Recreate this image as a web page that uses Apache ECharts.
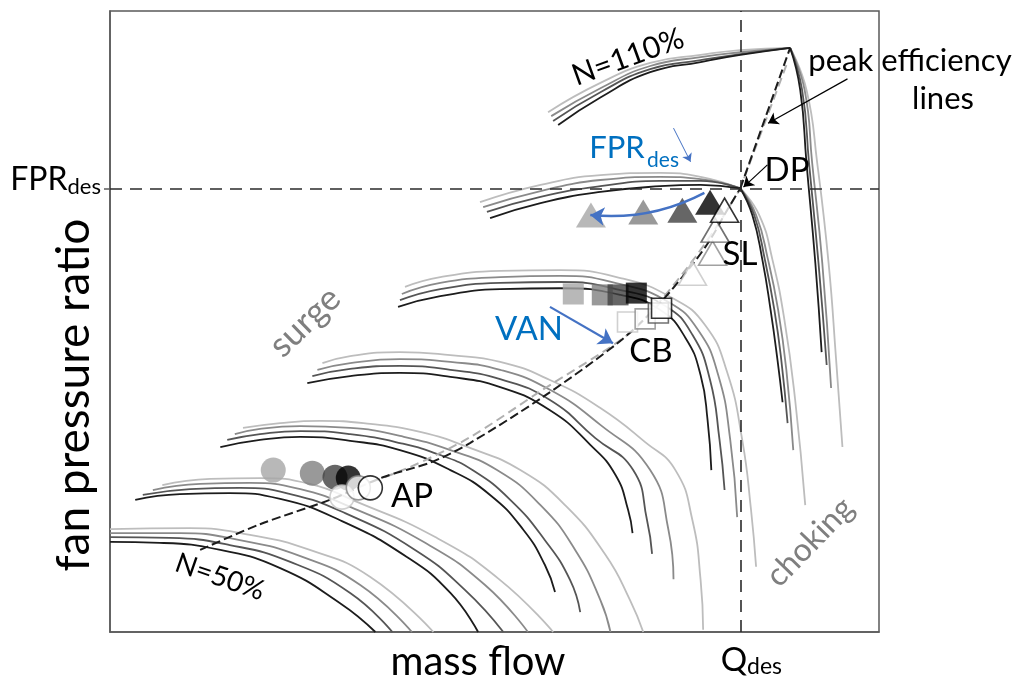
<!DOCTYPE html>
<html>
<head>
<meta charset="utf-8">
<script src="https://cdn.jsdelivr.net/npm/echarts@6/dist/echarts.min.js"></script>
<style>
  html, body { margin: 0; padding: 0; background: #ffffff; }
  #chart { width: 1022px; height: 682px; }
</style>
</head>
<body>
<div id="chart"></div>
<script>
// Fan map sketch. Mass flow in % of Q_des, fan pressure ratio in % of FPR_des.
// Each speed line is drawn for four configurations: [black, dark, mid, light].

const xTickValues = [100];
const xTickLabels = ['{a|Q}{b|des}'];
const yTickValues = [100];
const yTickLabels = ['{a|FPR}{b|des}'];

const n50 = [
  [[0, 20.3], [7.9, 20.1], [17.5, 18.5], [27.0, 14.4], [36.5, 6.5], [42.1, 0]],
  [[0, 21.4], [9.5, 21.2], [19.0, 19.6], [28.6, 15.8], [38.1, 8.8], [44.8, 0]],
  [[0, 22.3], [11.1, 22.3], [20.6, 20.7], [30.2, 17.1], [39.7, 10.6], [47.9, 0]],
  [[0, 23.2], [12.7, 23.4], [22.2, 21.9], [31.7, 18.5], [41.3, 12.4], [51.3, 0]]
];
const n60 = [
  [[4.0, 29.8], [11.1, 31.1], [19.0, 31.3], [27.0, 30.0], [36.5, 25.2], [47.1, 16.9], [54.0, 8.8], [58.4, 0]],
  [[5.2, 30.9], [12.7, 32.2], [20.6, 32.5], [28.6, 31.1], [37.3, 26.8], [48.4, 18.5], [56.3, 9.5], [62.4, 0]],
  [[6.8, 32.0], [14.3, 33.4], [22.2, 33.6], [30.2, 32.2], [38.1, 28.2], [50.0, 20.1], [59.5, 10.6], [66.3, 0]],
  [[8.3, 33.1], [15.9, 34.5], [23.8, 34.7], [31.7, 33.4], [38.9, 29.5], [51.6, 21.4], [61.9, 11.7], [70.3, 0]]
];
const n70 = [
  [[17.5, 41.7], [23.8, 43.3], [30.2, 44.0], [38.1, 43.1], [46.0, 41.0], [54.0, 36.5], [60.3, 30.9], [65.6, 23.0], [69.0, 15.1], [70.6, 9.0]],
  [[18.6, 43.3], [23.8, 44.6], [30.2, 45.3], [38.1, 44.6], [46.0, 42.6], [52.4, 39.9], [57.5, 36.5], [63.5, 29.8], [69.0, 20.7], [73.0, 11.7], [74.6, 4.5]],
  [[19.8, 44.6], [23.8, 45.8], [30.2, 46.4], [38.1, 46.0], [46.0, 44.2], [54.0, 41.0], [61.4, 36.5], [68.3, 28.6], [73.8, 18.5], [77.8, 7.2], [79.4, 0]],
  [[21.1, 46.0], [27.0, 47.1], [33.3, 47.6], [41.3, 46.9], [49.2, 45.1], [57.1, 41.5], [65.1, 36.5], [72.2, 28.6], [78.6, 17.4], [82.5, 7.2], [84.6, 0]]
];
const n80 = [
  [[31.3, 56.1], [38.1, 57.7], [46.0, 58.4], [54.0, 57.5], [61.9, 55.2], [69.8, 50.0], [76.2, 42.2], [80.2, 35.4], [82.2, 27.5], [82.9, 22.3]],
  [[32.1, 57.7], [38.1, 59.3], [46.0, 60.0], [54.0, 59.1], [61.9, 57.0], [69.8, 52.3], [77.0, 43.7], [83.0, 36.5], [85.2, 25.2], [86.0, 17.6]],
  [[32.9, 59.1], [38.1, 60.6], [46.0, 61.5], [54.0, 60.9], [61.9, 59.1], [69.8, 54.6], [77.8, 46.7], [85.7, 36.5], [88.6, 23.0], [89.4, 11.9]],
  [[33.7, 60.6], [38.1, 62.2], [46.0, 63.1], [54.0, 62.4], [61.9, 60.9], [69.8, 56.8], [77.8, 50.5], [84.9, 42.8], [89.7, 36.5], [92.4, 25.2], [93.7, 11.7], [94.1, 0.5]]
];
const n90 = [
  [[45.7, 73.3], [52.4, 75.7], [61.9, 77.3], [71.4, 77.5], [81.0, 76.0], [87.3, 72.6], [91.3, 66.3], [93.7, 57.9], [94.8, 47.8], [95.4, 36.5]],
  [[46.0, 74.8], [52.4, 77.3], [61.9, 78.7], [71.4, 78.9], [81.0, 77.1], [88.1, 73.5], [92.4, 67.0], [95.2, 56.8], [96.7, 43.3], [97.5, 32.0]],
  [[46.3, 76.2], [52.4, 78.7], [61.9, 80.0], [71.4, 80.3], [81.0, 78.4], [88.6, 74.4], [93.3, 68.1], [96.5, 57.9], [98.4, 43.3], [99.5, 25.9]],
  [[46.8, 77.8], [52.4, 80.0], [61.9, 81.4], [71.4, 81.6], [81.0, 79.8], [89.2, 75.3], [94.4, 69.2], [97.9, 58.6], [100.3, 43.3], [101.7, 27.5], [102.5, 14.7]]
];
// design speed: surge side up to DP, then choke side from DP
const n100Surge = [
  [[60.3, 93.3], [68.3, 96.7], [77.8, 99.2], [87.3, 100.5], [93.7, 100.8], [100, 100]],
  [[59.8, 94.7], [68.3, 98.1], [77.8, 100.5], [87.3, 101.7], [93.7, 101.7], [100, 100]],
  [[59.2, 95.8], [68.3, 99.4], [77.8, 101.9], [87.3, 102.6], [93.7, 102.1], [100, 100]],
  [[58.7, 96.9], [68.3, 100.8], [77.8, 103.0], [87.3, 103.5], [93.7, 102.6], [100, 100]]
];
const n100Choke = [
  [[100, 100], [101.9, 94.0], [103.5, 83.9], [104.8, 72.6], [105.9, 61.3], [106.7, 51.8]],
  [[100, 100], [102.2, 94.0], [103.9, 83.9], [105.4, 72.6], [106.5, 61.3], [107.5, 47.1]],
  [[100, 100], [102.5, 94.0], [104.4, 83.9], [106.0, 72.6], [107.3, 59.1], [108.4, 41.0]],
  [[100, 100], [103.0, 94.0], [105.1, 83.9], [107.0, 70.3], [108.7, 52.3], [110.3, 28.6]]
];
const n110Surge = [
  [[71.1, 114.3], [77.8, 120.5], [85.7, 126.2], [93.7, 128.5], [100, 130.1], [107.9, 131.7]],
  [[70.3, 115.2], [77.8, 121.7], [85.7, 126.9], [93.7, 128.9], [100, 130.3], [107.9, 131.7]],
  [[70.0, 116.3], [77.8, 122.6], [85.7, 127.6], [93.7, 129.6], [100, 130.7], [107.9, 131.7]],
  [[69.5, 117.2], [77.8, 123.8], [85.7, 128.3], [93.7, 130.1], [100, 131.2], [107.9, 131.7]]
];
const n110Choke = [
  [[107.9, 131.7], [109.5, 122.2], [110.5, 105.7], [111.9, 83.2], [112.9, 63.1]],
  [[107.9, 131.7], [109.8, 122.2], [110.9, 105.7], [112.4, 83.2], [113.7, 60.2]],
  [[107.9, 131.7], [110.2, 122.2], [111.4, 105.7], [113.0, 83.2], [114.4, 55.0]],
  [[107.9, 131.7], [110.5, 122.2], [112.2, 105.7], [114.0, 83.2], [115.2, 61.3], [116.2, 41.7]]
];

// operating line (AP - CB - SL - DP) and peak efficiency line (DP - N=110% peak)
const workLine = [[14.3, 18.5], [23.8, 24.3], [34.9, 29.8], [43.3, 34.9], [51.0, 38.3], [57.1, 42.6], [68.7, 53.0], [80.5, 65.1], [86.5, 73.0], [92.1, 82.3], [95.2, 88.4], [97.9, 95.1], [100, 100]];
const peakLine = [[100, 100], [107.9, 131.7]];
const workLineAlt = [[37.3, 31.6], [47.6, 37.2], [57.1, 43.9], [68.3, 54.3], [82.5, 67.4], [88.1, 76.0], [92.9, 84.6], [96.8, 92.6], [100, 100]];
const peakLineAlt = [[100.6, 102.3], [107.3, 127.8]];

// operating points, ordered light -> black
const fprPoints = [[76.3, 94.0], [84.6, 94.7], [90.8, 95.1], [95.2, 96.9]];
const slPoints = [[92.4, 80.9], [95.6, 85.4], [96.0, 90.6], [97.5, 95.1]];
const vanPoints = [[73.5, 76.2], [78.1, 76.0], [80.6, 76.0], [83.5, 76.4]];
const cbPoints = [[82.1, 69.9], [84.9, 70.6], [87.0, 71.9], [87.5, 73.0]];
const apFilled = [[25.9, 36.5], [32.1, 35.8], [35.7, 34.9], [37.8, 34.7]];
const apOpen = [[36.8, 30.4], [39.4, 32.5], [41.3, 32.5]];

// annotation arrows [from, to]
const fprArrow = [[94.3, 99.0], [76.2, 94.0]];
const vanArrow = [[69.8, 73.3], [79.8, 65.1]];
const fprDesArrow = [[89.4, 113.6], [92.1, 106.0]];
const peakArrow = [[117.0, 124.7], [104.4, 114.7]];
const dpArrow = [[104.3, 105.3], [100.5, 100.3]];

const FONT = 'Lato, "Noto Sans", sans-serif';
const shadeColors = ['#1c1c1c', '#555555', '#8a8a8a', '#bdbdbd'];
const fillShades = ['#a6a6a6', '#7f7f7f', '#404040', '#000000'];
const outlineShades = ['#c4c4c4', '#8a8a8a', '#4d4d4d', '#000000'];
const apOutlineShades = ['#c4c4c4', '#7f7f7f', '#000000'];
const blue = '#4472C4';
const textBlue = '#0070C0';

const series = [];
[n50, n60, n70, n80, n90, n100Surge, n100Choke, n110Surge, n110Choke].forEach(function (fam) {
  for (let k = fam.length - 1; k >= 0; k--) {
    series.push({
      type: 'line', data: fam[k], smooth: 0.5, symbol: 'none', silent: true, z: 2,
      lineStyle: { color: shadeColors[k], width: 1.8 }
    });
  }
});

// design reference lines
series.push({
  type: 'line', data: [], silent: true, z: 1,
  markLine: {
    silent: true, symbol: 'none', label: { show: false },
    lineStyle: { type: [12, 8], color: '#2b2b2b', width: 1.6 },
    data: [{ yAxis: 100 }, { xAxis: 100 }]
  }
});

function dashed(data, color, smooth, dash) {
  return {
    type: 'line', data: data, smooth: smooth, symbol: 'none', silent: true, z: 3,
    lineStyle: { color: color, width: 2, type: dash }
  };
}
series.push(dashed(workLineAlt, '#b0b0b0', 0.3, [9, 5]));
series.push(dashed(peakLineAlt, '#b0b0b0', false, [9, 5]));
series.push(dashed(workLine, '#1c1c1c', 0.3, [9, 4]));
series.push(dashed(peakLine, '#1c1c1c', false, [9, 4]));

function markers(points, symbol, size, fills, borders, bw) {
  return {
    type: 'scatter', symbol: symbol, symbolSize: size, silent: true, z: 5,
    data: points.map(function (p, i) {
      return { value: p, itemStyle: { color: fills[i], borderColor: borders[i], borderWidth: bw } };
    })
  };
}
const whites = ['#ffffff', '#ffffff', '#ffffff', '#ffffff'];
series.push(markers(fprPoints, 'triangle', [30, 25], fillShades, fillShades, 0));
series.push(markers(slPoints, 'triangle', [28, 24], whites, outlineShades, 1.6));
series.push(markers(vanPoints, 'rect', 21, fillShades, fillShades, 0));
series.push(markers(cbPoints, 'rect', 20, whites, outlineShades, 1.6));
series.push(markers(apFilled, 'circle', 25, fillShades, fillShades, 0));
series.push(markers(apOpen, 'circle', 24, whites, apOutlineShades, 1.6));

function arrow(coords, color, width, curveness, size) {
  return {
    type: 'lines', coordinateSystem: 'cartesian2d', silent: true, z: 6,
    symbol: ['none', 'arrow'], symbolSize: size,
    lineStyle: { color: color, width: width, curveness: curveness, opacity: 1 },
    data: [{ coords: coords }]
  };
}
series.push(arrow(fprArrow, blue, 2.5, 0.15, 14));
series.push(arrow(vanArrow, blue, 2.2, 0, 14));
series.push(arrow(fprDesArrow, blue, 1, 0, 8));
series.push(arrow(peakArrow, '#000000', 1.2, 0, 10));
series.push(arrow(dpArrow, '#000000', 1.2, 0, 10));

function txt(x, y, text, size, color, rotDeg) {
  return {
    type: 'text', x: x, y: y, rotation: (rotDeg || 0) * Math.PI / 180, silent: true, z: 20,
    style: { text: text, fill: color || '#000', font: size + 'px ' + FONT, textAlign: 'center', textVerticalAlign: 'middle' }
  };
}

const option = {
  animation: false,
  backgroundColor: '#ffffff',
  grid: { left: 110, right: 143, top: 11, bottom: 50, show: true, borderColor: '#5a5a5a', borderWidth: 1.5 },
  xAxis: {
    type: 'value', min: 0, max: 122,
    splitLine: { show: false },
    axisLine: { show: true, lineStyle: { color: '#5a5a5a', width: 1.5 } },
    axisTick: { show: false },
    axisLabel: {
      customValues: xTickValues, margin: 10, padding: [0, 0, 0, 22],
      formatter: function (v) { const i = xTickValues.indexOf(v); return i >= 0 ? xTickLabels[i] : ''; },
      rich: {
        a: { fontSize: 33, fontFamily: FONT, color: '#000', height: 36, verticalAlign: 'top' },
        b: { fontSize: 23, fontFamily: FONT, color: '#000', verticalAlign: 'bottom' }
      }
    }
  },
  yAxis: {
    type: 'value', min: 0, max: 140,
    splitLine: { show: false },
    axisLine: { show: true, lineStyle: { color: '#5a5a5a', width: 1.5 } },
    axisTick: { show: true, customValues: yTickValues, length: 6, lineStyle: { color: '#5a5a5a', width: 1.5 } },
    axisLabel: {
      customValues: yTickValues, margin: 9, padding: [0, 0, 18, 0],
      formatter: function (v) { const i = yTickValues.indexOf(v); return i >= 0 ? yTickLabels[i] : ''; },
      rich: {
        a: { fontSize: 32, fontFamily: FONT, color: '#000', height: 36, verticalAlign: 'top' },
        b: { fontSize: 22, fontFamily: FONT, color: '#000', verticalAlign: 'bottom' }
      }
    }
  },
  graphic: [
    txt(74, 395, 'fan pressure ratio', 46, '#000', 90),
    txt(478, 662, 'mass flow', 40, '#000', 0),
    txt(628, 57, 'N=110%', 30, '#000', 20),
    txt(910, 61, 'peak efficiency', 31, '#000', 0),
    txt(943, 99, 'lines', 31, '#000', 0),
    txt(617, 148, 'FPR', 31, textBlue, 0),
    txt(663, 160, 'des', 21, textBlue, 0),
    txt(787, 170, 'DP', 33, '#000', 0),
    txt(740, 254, 'SL', 33, '#000', 0),
    txt(651, 351, 'CB', 33, '#000', 0),
    txt(529, 329, 'VAN', 33, textBlue, 0),
    txt(412, 496, 'AP', 33, '#000', 0),
    txt(305, 322, 'surge', 35, '#7f7f7f', 44),
    txt(810, 542, 'choking', 32, '#7f7f7f', 46),
    txt(220, 577, 'N=50%', 28, '#000', -19)
  ],
  series: series
};

const chart = echarts.init(document.getElementById('chart'));
chart.setOption(option);
</script>
</body>
</html>
